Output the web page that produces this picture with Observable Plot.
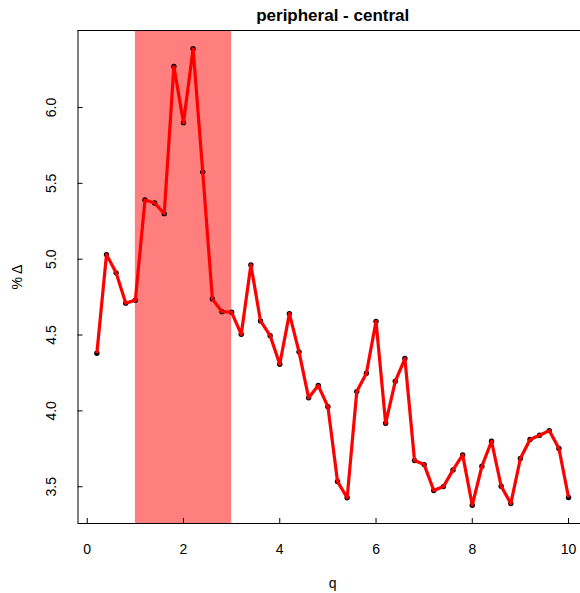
<!DOCTYPE html>
<html>
<head>
<meta charset="utf-8">
<script src="https://cdn.jsdelivr.net/npm/d3@7"></script>
<script src="https://cdn.jsdelivr.net/npm/@observablehq/plot@0.6"></script>
<style>
  html, body { margin: 0; padding: 0; background: #fff; }
  #chart svg { display: block; }
</style>
</head>
<body>
<div id="chart"></div>
<script>
const title = "peripheral - central";
const xLabel = "q";
const yLabel = "% Δ";

const q = [0.2, 0.4, 0.6, 0.8, 1.0, 1.2, 1.4, 1.6, 1.8, 2.0,
           2.2, 2.4, 2.6, 2.8, 3.0, 3.2, 3.4, 3.6, 3.8, 4.0,
           4.2, 4.4, 4.6, 4.8, 5.0, 5.2, 5.4, 5.6, 5.8, 6.0,
           6.2, 6.4, 6.6, 6.8, 7.0, 7.2, 7.4, 7.6, 7.8, 8.0,
           8.2, 8.4, 8.6, 8.8, 9.0, 9.2, 9.4, 9.6, 9.8, 10.0];
const delta = [4.38, 5.03, 4.91, 4.71, 4.73, 5.39, 5.37, 5.30, 6.27, 5.90,
               6.387, 5.574, 4.738, 4.654, 4.650, 4.505, 4.962, 4.593, 4.496, 4.307,
               4.641, 4.389, 4.086, 4.167, 4.028, 3.534, 3.427, 4.127, 4.248, 4.590,
               3.918, 4.195, 4.345, 3.673, 3.646, 3.475, 3.501, 3.611, 3.710, 3.378,
               3.635, 3.800, 3.503, 3.389, 3.686, 3.811, 3.839, 3.870, 3.752, 3.429];

const highlight = [{from: 1, to: 3}];
const xTicks = [0, 2, 4, 6, 8, 10];
const yTicks = [3.5, 4.0, 4.5, 5.0, 5.5, 6.0];

const data = q.map((x, i) => ({q: x, d: delta[i]}));

// R-style 4% padding of the data range
const xr = d3.extent(q), yr = d3.extent(delta);
const xPad = (xr[1] - xr[0]) * 0.04, yPad = (yr[1] - yr[0]) * 0.04;
const xMin = xr[0] - xPad, xMaxR = xr[1] + xPad;
const yMin = yr[0] - yPad, yMax = yr[1] + yPad;
const W = 580, H = 593, ML = 77.5, MT = 30, MB = 70;
const pxPerUnit = 48.13;
const xMax = xMin + (W - ML) / pxPerUnit; // plot region is cut off at the right
const xCenter = (xMin + xMaxR) / 2;

const font = "'Liberation Sans', Arial, Helvetica, sans-serif";

const chart = Plot.plot({
  width: W, height: H,
  marginLeft: ML, marginRight: 0, marginTop: MT, marginBottom: MB,
  style: {fontFamily: font, background: "#fff", color: "#000"},
  x: {domain: [xMin, xMax], axis: null},
  y: {domain: [yMin, yMax], axis: null},
  marks: [
    Plot.rect(highlight, {x1: "from", x2: "to", y1: yMin, y2: yMax, fill: "#FF0000", fillOpacity: 0.5}),
    Plot.dot(data, {x: "q", y: "d", r: 2.7, fill: "#000", stroke: "none"}),
    Plot.line(data, {x: "q", y: "d", stroke: "#FF0000", strokeWidth: 3.2, strokeLinejoin: "round", strokeLinecap: "butt"}),
    // box (left, bottom, top; right side lies outside the picture)
    Plot.ruleY([yMin, yMax], {stroke: "#000", strokeWidth: 1}),
    Plot.ruleX([xMin], {stroke: "#000", strokeWidth: 1}),
    // inward ticks
    Plot.tickX(xTicks, {x: d => d, insetTop: (H - MT - MB) - 5, stroke: "#000", strokeWidth: 1}),
    Plot.tickY(yTicks, {y: d => d, insetRight: (W - ML) - 5, stroke: "#000", strokeWidth: 1}),
    // tick labels
    Plot.text(xTicks, {x: d => d, text: d => String(d), frameAnchor: "bottom", lineAnchor: "middle", textAnchor: "middle", dy: 26, fontSize: 14, fill: "#000"}),
    Plot.text(yTicks, {y: d => d, text: d => d.toFixed(1), frameAnchor: "left", textAnchor: "middle", lineAnchor: "middle", dx: -26, rotate: -90, fontSize: 14, fill: "#000"}),
    // axis titles
    Plot.text([xLabel], {x: () => xCenter, text: d => d, frameAnchor: "bottom", lineAnchor: "middle", textAnchor: "middle", dy: 60, fontSize: 14, fill: "#000"}),
    Plot.text([yLabel], {text: d => d, frameAnchor: "left", textAnchor: "middle", lineAnchor: "middle", dx: -60, rotate: -90, fontSize: 14, fill: "#000"}),
    // main title
    Plot.text([title], {x: () => xCenter, text: d => d, frameAnchor: "top", lineAnchor: "middle", textAnchor: "middle", dy: -15, fontSize: 17, fontWeight: "bold", fill: "#000"})
  ]
});
document.getElementById("chart").appendChild(chart);
</script>
</body>
</html>
